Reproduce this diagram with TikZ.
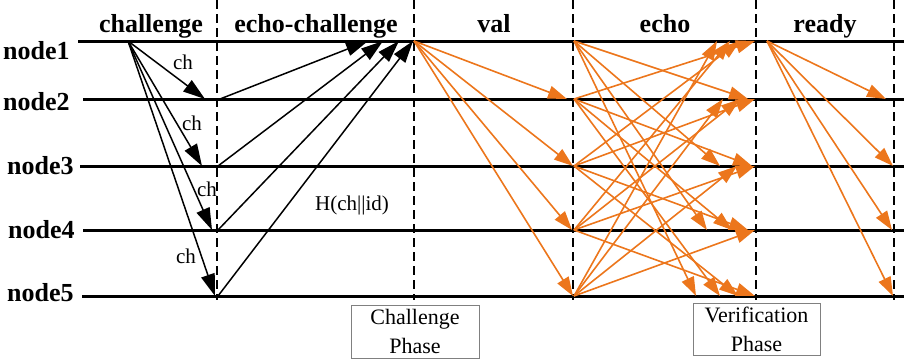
\documentclass[tikz,border=0pt]{standalone}
\usepackage{fontspec}
\setmainfont{Liberation Serif}
\usetikzlibrary{arrows.meta}
\definecolor{echoorange}{RGB}{236,118,28}
\tikzset{
  timeline/.style={line width=3pt, black},
  phaseline/.style={line width=1.4pt, dash pattern=on 9pt off 5pt},
  blkarrow/.style={line width=1.5pt, -{Triangle[length=22pt,width=14pt]}},
  orgarrow/.style={line width=1.6pt, echoorange, -{Triangle[length=19pt,width=13pt]}},
  header/.style={font=\fontsize{26}{30}\selectfont\bfseries, anchor=base, inner sep=0},
  nodelabel/.style={font=\fontsize{26}{30}\selectfont\bfseries, anchor=base west, inner sep=0},
  msg/.style={font=\fontsize{21}{25}\selectfont, inner sep=0},
  phasebox/.style={draw=gray, fill=white, line width=0.8pt, align=center, inner sep=0, font=\fontsize{22}{29}\selectfont},
}
\begin{document}
\begin{tikzpicture}[x=1pt,y=-1pt]
\useasboundingbox (0,0) rectangle (904,360);
% levels
\foreach \i/\y in {1/41,2/99,3/166,4/230,5/296} { \coordinate (Y\i) at (0,\y); }
% timelines
\foreach \i/\xa in {1/78,2/83,3/80,4/83,5/82} {
  \path (Y\i) ++(\xa,0) coordinate (La\i);
  \path (Y\i) ++(904,0) coordinate (Lb\i);
  \draw[timeline] (La\i) -- (Lb\i);
}
% phase separators
\foreach \n/\x in {1/217,2/414,3/573,4/756,5/894} {
  \coordinate (Da\n) at (\x,0);
  \coordinate (Db\n) at (\x,300);
  \draw[phaseline] (Da\n) -- (Db\n);
}
% challenge
\coordinate (c0) at (128,41);
\foreach \t/\x in {2/205,3/202,4/212,5/215} {
  \path (Y\t) ++(\x,0) coordinate (c\t);
  \draw[blkarrow] (c0) -- (c\t);
}
% echo-challenge
\foreach \s/\xs/\xt in {2/220/368,3/218/383,4/218/399,5/218/413} {
  \path (Y\s) ++(\xs,0) coordinate (ec\s);
  \path (Y1) ++(\xt,0) coordinate (ect\s);
  \draw[blkarrow] (ec\s) -- (ect\s);
}
% val
\coordinate (v0) at (414,41);
\foreach \t/\x in {2/567,3/573,4/572,5/573} {
  \path (Y\t) ++(\x,0) coordinate (v\t);
  \draw[orgarrow] (v0) -- (v\t);
}
% echo
\foreach \s in {1,...,5} { \path (Y\s) ++(574,0) coordinate (e\s); }
\foreach \s/\t/\x in {2/1/755,3/1/740,4/1/730,5/1/717,
                      1/2/748,3/2/755,4/2/740,5/2/723,
                      1/3/720,2/3/752,4/3/755,5/3/737,
                      1/4/707,2/4/732,3/4/748,5/4/755,
                      1/5/696,2/5/720,3/5/738,4/5/755} {
  \path (Y\t) ++(\x,0) coordinate (k\s\t);
  \draw[orgarrow] (e\s) -- (k\s\t);
}
% ready
\coordinate (r0) at (767,41);
\foreach \t/\x in {2/886,3/893,4/892,5/893} {
  \path (Y\t) ++(\x,0) coordinate (r\t);
  \draw[orgarrow] (r0) -- (r\t);
}
% headers
\node[header] (hch) at (151,32) {challenge};
\node[header] (hec) at (316,32) {echo-challenge};
\node[header] (hval) at (494,32) {val};
\node[header] (hecho) at (665,32) {echo};
\node[header] (hready) at (825,32) {ready};
% node labels
\node[nodelabel] (n1) at (3,59) {node1};
\node[nodelabel] (n2) at (3,110) {node2};
\node[nodelabel] (n3) at (7,174) {node3};
\node[nodelabel] (n4) at (8,238) {node4};
\node[nodelabel] (n5) at (7,301) {node5};
% message labels
\node[msg] (m1) at (183,62) {ch};
\node[msg] (m2) at (192,123) {ch};
\node[msg] (m3) at (207,189) {ch};
\node[msg] (m4) at (186,256) {ch};
\node[msg] (mh) at (352,205) {H(ch||id)};
% phase boxes
\node[phasebox, minimum width=128pt, minimum height=53pt] (cpb) at (415,331.5) {Challenge\\Phase};
\node[phasebox, minimum width=127pt, minimum height=52pt] (vpb) at (756.5,329) {Verification\\Phase};
\end{tikzpicture}
\end{document}
